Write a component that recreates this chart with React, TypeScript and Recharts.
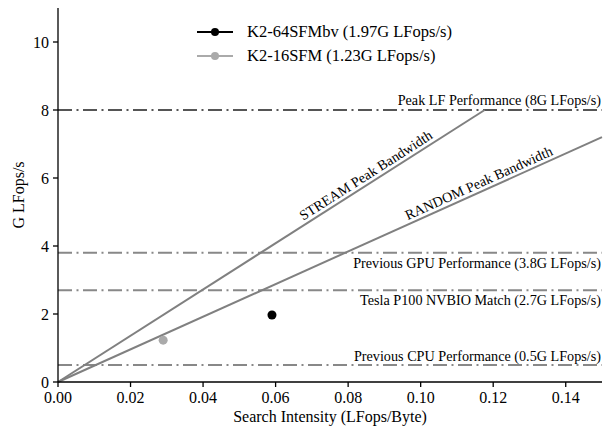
import React from "react";
import {
  ComposedChart,
  XAxis,
  YAxis,
  Scatter,
  ReferenceLine,
  ReferenceDot,
  Legend,
} from "recharts";

// measured kernels
const kernelNames = ["K2-64SFMbv (1.97G LFops/s)", "K2-16SFM (1.23G LFops/s)"];
const kernelIntensity = [0.059, 0.029];
const kernelPerf = [1.97, 1.23];
const kernelColors = ["#000000", "#aaaaaa"];

// horizontal performance ceilings (G LFops/s)
const ceilings = [8, 3.8, 2.7, 0.5];
const ceilingLabels = [
  "Peak LF Performance (8G LFops/s)",
  "Previous GPU Performance (3.8G LFops/s)",
  "Tesla P100 NVBIO Match (2.7G LFops/s)",
  "Previous CPU Performance (0.5G LFops/s)",
];

// bandwidth roofs (G LFops/s per LFops/Byte)
const bandwidths = [68, 48];
const bandwidthLabels = ["STREAM Peak Bandwidth", "RANDOM Peak Bandwidth"];
const bandwidthLabelAt = [0.0862, 0.117];

const xTicks = [0, 0.02, 0.04, 0.06, 0.08, 0.1, 0.12, 0.14];
const yTicks = [0, 2, 4, 6, 8, 10];

const X_MAX = 0.15;
const Y_MAX = 11;
const PEAK = 8;

const W = 603;
const H = 429;
const MARGIN = { top: 8, right: 1, bottom: 0, left: 0 };
const Y_AXIS_W = 58;
const X_AXIS_H = 47;
const PLOT_W = W - MARGIN.left - MARGIN.right - Y_AXIS_W;
const PLOT_H = H - MARGIN.top - MARGIN.bottom - X_AXIS_H;

const FONT = "'Liberation Serif', 'Times New Roman', serif";
const TICK_FS = 16;
const LABEL_FS = 16;
const NOTE_FS = 14.2;
const LEGEND_FS = 16.5;

const roofAngle = (bw: number) =>
  (-Math.atan((bw * PLOT_H) / Y_MAX / (PLOT_W / X_MAX)) * 180) / Math.PI;

// where each ceiling label sits relative to its line (baseline offset)
const ceilingLabelDy = [-5, 15, 15, -4.5];

const LegendBox = () => (
  <div style={{ fontFamily: FONT, fontSize: LEGEND_FS, color: "#000" }}>
    {kernelNames.map((name, i) => (
      <div
        key={name}
        style={{ display: "flex", alignItems: "center", height: 24 }}
      >
        <svg width={36} height={12} style={{ display: "block" }}>
          <line x1={0} y1={6} x2={36} y2={6} stroke={kernelColors[i]} strokeWidth={2} />
          <circle cx={18} cy={6} r={4} fill={kernelColors[i]} />
        </svg>
        <span style={{ marginLeft: 14, whiteSpace: "nowrap" }}>{name}</span>
      </div>
    ))}
  </div>
);

export default function App() {
  return (
    <div style={{ position: "absolute", left: 0, top: 0 }}>
      <ComposedChart
        width={W}
        height={H}
        margin={MARGIN}
        style={{ fontFamily: FONT }}
      >
        <XAxis
          type="number"
          dataKey="x"
          domain={[0, X_MAX]}
          ticks={xTicks}
          tickFormatter={(v: number) => v.toFixed(2)}
          height={X_AXIS_H}
          tickSize={5}
          tickMargin={5}
          allowDataOverflow
          axisLine={{ stroke: "#000", strokeWidth: 1.3 }}
          tickLine={{ stroke: "#000", strokeWidth: 1.3 }}
          tick={{ fill: "#000", fontSize: TICK_FS, fontFamily: FONT }}
          label={(p: any) => {
            const vb = p?.viewBox ?? { x: Y_AXIS_W, y: H - X_AXIS_H, width: PLOT_W, height: X_AXIS_H };
            return (
              <text
                x={vb.x + vb.width / 2}
                y={vb.y + vb.height - 7}
                textAnchor="middle"
                fill="#000"
                fontSize={LABEL_FS}
                fontFamily={FONT}
              >
                Search Intensity (LFops/Byte)
              </text>
            );
          }}
        />
        <YAxis
          type="number"
          dataKey="y"
          domain={[0, Y_MAX]}
          ticks={yTicks}
          width={Y_AXIS_W}
          tickSize={5}
          tickMargin={4}
          allowDataOverflow
          axisLine={{ stroke: "#000", strokeWidth: 1.3 }}
          tickLine={{ stroke: "#000", strokeWidth: 1.3 }}
          tick={{ fill: "#000", fontSize: TICK_FS, fontFamily: FONT }}
          label={(p: any) => {
            const vb = p?.viewBox ?? { x: 0, y: MARGIN.top, width: Y_AXIS_W, height: PLOT_H };
            const cx = vb.x + 18;
            const cy = vb.y + vb.height / 2;
            return (
              <text
                x={cx}
                y={cy}
                transform={`rotate(-90 ${cx} ${cy})`}
                textAnchor="middle"
                dominantBaseline="central"
                fill="#000"
                fontSize={LABEL_FS}
                fontFamily={FONT}
              >
                G LFops/s
              </text>
            );
          }}
        />

        {ceilings.map((c, i) => (
          <ReferenceLine
            key={`ceil-${i}`}
            y={c}
            stroke={i === 0 ? "#555555" : "#888888"}
            strokeWidth={2}
            strokeDasharray="14 4.5 2 4.5"
            label={(p: any) => {
              const vb = p?.viewBox;
              if (!vb) return null;
              return (
                <text
                  x={vb.x + vb.width - 1}
                  y={vb.y + ceilingLabelDy[i]}
                  textAnchor="end"
                  fill="#000"
                  fontSize={NOTE_FS}
                  fontFamily={FONT}
                >
                  {ceilingLabels[i]}
                </text>
              );
            }}
          />
        ))}

        {bandwidths.map((bw, i) => (
          <ReferenceLine
            key={`roof-${i}`}
            segment={[
              { x: 0, y: 0 },
              { x: Math.min(X_MAX, PEAK / bw), y: Math.min(PEAK, bw * X_MAX) },
            ]}
            stroke="#808080"
            strokeWidth={2}
          />
        ))}

        {bandwidths.map((bw, i) => (
          <ReferenceDot
            key={`roof-label-${i}`}
            x={bandwidthLabelAt[i]}
            y={bw * bandwidthLabelAt[i]}
            r={1}
            shape={(p: any) => (
              <text
                transform={`translate(${p.cx} ${p.cy}) rotate(${roofAngle(bw)})`}
                x={0}
                y={-4}
                textAnchor="middle"
                fill="#000"
                fontSize={NOTE_FS}
                fontFamily={FONT}
              >
                {bandwidthLabels[i]}
              </text>
            )}
          />
        ))}

        {kernelNames.map((name, i) => (
          <Scatter
            key={name}
            name={name}
            data={[{ x: kernelIntensity[i], y: kernelPerf[i] }]}
            fill={kernelColors[i]}
            isAnimationActive={false}
            shape={(p: any) => (
              <circle cx={p.cx} cy={p.cy} r={4.5} fill={kernelColors[i]} />
            )}
          />
        ))}

        <Legend
          layout="vertical"
          align="center"
          verticalAlign="middle"
          wrapperStyle={{ top: 20, left: 197, width: "auto" }}
          content={() => <LegendBox />}
        />
      </ComposedChart>
    </div>
  );
}
